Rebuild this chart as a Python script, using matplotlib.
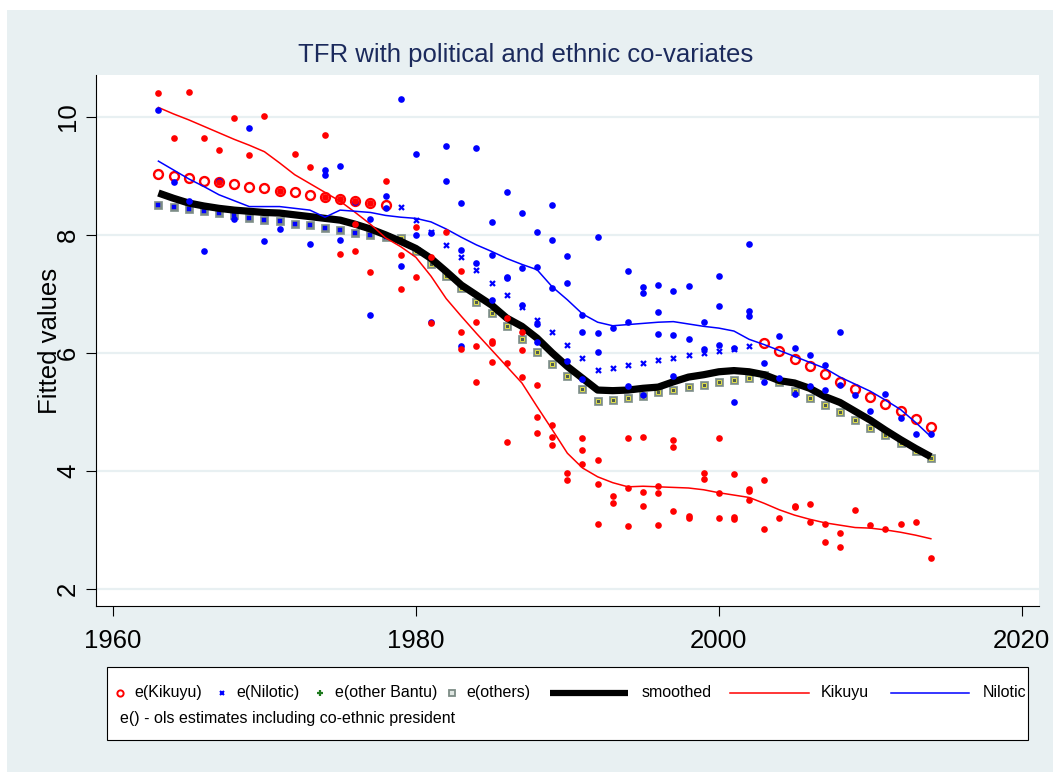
import matplotlib
matplotlib.use("Agg")
import matplotlib.pyplot as plt
from matplotlib.patches import Rectangle
import numpy as np

plt.rcParams['font.family'] = ['Liberation Sans', 'DejaVu Sans']

# ---------------------------------------------------------------- data
years = np.arange(1963, 2015)

smoothed = [8.71, 8.62, 8.54, 8.49, 8.45, 8.42, 8.40, 8.38, 8.37, 8.34,
            8.31, 8.28, 8.25, 8.18, 8.10, 8.00, 7.89, 7.77, 7.60, 7.38,
            7.15, 6.98, 6.81, 6.59, 6.45, 6.25, 6.00, 5.77, 5.57, 5.37,
            5.36, 5.37, 5.40, 5.42, 5.51, 5.59, 5.63, 5.68, 5.70, 5.68,
            5.63, 5.53, 5.49, 5.40, 5.26, 5.16, 5.01, 4.86, 4.69, 4.53,
            4.38, 4.24]

others_fit = [8.50, 8.48, 8.44, 8.40, 8.37, 8.33, 8.29, 8.26, 8.23, 8.19,
              8.16, 8.12, 8.09, 8.04, 8.00, 7.96, 7.94, 7.73, 7.51, 7.30,
              7.10, 6.87, 6.67, 6.46, 6.24, 6.02, 5.81, 5.60, 5.39, 5.18,
              5.20, 5.24, 5.27, 5.33, 5.37, 5.42, 5.46, 5.50, 5.54, 5.58,
              5.62, 5.50, 5.36, 5.24, 5.11, 4.99, 4.86, 4.73, 4.60, 4.47,
              4.34, 4.22]

kikuyu_line = [10.16, 10.05, 9.95, 9.84, 9.73, 9.62, 9.52, 9.41, 9.22, 9.02,
               8.87, 8.72, 8.57, 8.38, 8.18, 7.95, 7.80, 7.62, 7.30, 6.92,
               6.62, 6.33, 6.05, 5.77, 5.49, 5.09, 4.70, 4.30, 4.05, 3.90,
               3.80, 3.73, 3.74, 3.73, 3.72, 3.71, 3.68, 3.63, 3.59, 3.55,
               3.45, 3.34, 3.25, 3.18, 3.12, 3.08, 3.04, 3.03, 3.00, 2.96,
               2.91, 2.85]

nilotic_line = [9.25, 9.10, 8.95, 8.82, 8.68, 8.58, 8.48, 8.48, 8.48, 8.45,
                8.42, 8.30, 8.42, 8.40, 8.38, 8.33, 8.30, 8.28, 8.22, 8.10,
                7.96, 7.83, 7.72, 7.60, 7.50, 7.41, 7.12, 6.90, 6.66, 6.52,
                6.46, 6.48, 6.50, 6.52, 6.53, 6.49, 6.45, 6.42, 6.37, 6.23,
                6.14, 6.04, 5.94, 5.84, 5.74, 5.59, 5.47, 5.35, 5.20, 5.04,
                4.82, 4.58]

kik_fit_years = list(range(1963, 1979)) + list(range(2003, 2015))
kik_fit = [9.03, 9.00, 8.96, 8.92, 8.89, 8.86, 8.82, 8.79, 8.75, 8.72,
           8.68, 8.64, 8.61, 8.58, 8.54, 8.51,
           6.16, 6.03, 5.90, 5.77, 5.64, 5.51, 5.38, 5.26, 5.13, 5.01,
           4.88, 4.75]

nil_fit_years = list(range(1979, 2003))
nil_fit = [8.47, 8.26, 8.05, 7.83, 7.62, 7.41, 7.19, 6.98, 6.77, 6.56,
           6.35, 6.14, 5.92, 5.71, 5.75, 5.79, 5.83, 5.88, 5.92, 5.96,
           6.00, 6.04, 6.07, 6.11]

kik_obs_years = [1963, 1964, 1965, 1966, 1967, 1967, 1968, 1969, 1970, 1971,
                 1972, 1973, 1974, 1974, 1975, 1975, 1976, 1976, 1976, 1977,
                 1977, 1978, 1979, 1979, 1980, 1980, 1981, 1981, 1982, 1983,
                 1983, 1983, 1984, 1984, 1984, 1985, 1985, 1985, 1986, 1986,
                 1986, 1987, 1987, 1987, 1988, 1988, 1988, 1989, 1989, 1989,
                 1990, 1990, 1991, 1991, 1991, 1992, 1992, 1992, 1993, 1993,
                 1994, 1994, 1994, 1995, 1995, 1995, 1996, 1996, 1996, 1997,
                 1997, 1997, 1998, 1998, 1999, 1999, 2000, 2000, 2000, 2001,
                 2001, 2001, 2002, 2002, 2002, 2003, 2003, 2004, 2005, 2005,
                 2006, 2006, 2007, 2007, 2008, 2008, 2009, 2010, 2011, 2012,
                 2013, 2014]
kik_obs = [10.40, 9.64, 10.42, 9.64, 9.44, 8.89, 9.98, 9.36, 10.02, 8.75,
           9.37, 9.15, 9.70, 8.64, 8.61, 7.68, 8.58, 8.19, 7.73, 8.54,
           7.37, 8.92, 7.66, 7.08, 8.13, 7.29, 7.62, 6.50, 8.05, 7.38,
           6.35, 6.07, 6.52, 6.12, 5.50, 6.20, 6.17, 5.84, 6.59, 5.83,
           4.49, 6.35, 6.05, 5.59, 5.46, 4.91, 4.65, 4.77, 4.58, 4.44,
           3.97, 3.84, 4.55, 4.36, 4.12, 4.18, 3.78, 3.10, 3.58, 3.46,
           4.55, 3.71, 3.06, 4.58, 3.65, 3.40, 3.75, 3.63, 3.08, 4.52,
           4.40, 3.32, 3.24, 3.21, 3.97, 3.87, 4.55, 3.62, 3.20, 3.94,
           3.22, 3.19, 3.70, 3.66, 3.51, 3.84, 3.02, 3.20, 3.41, 3.38,
           3.44, 3.13, 3.10, 2.79, 2.94, 2.71, 3.34, 3.08, 3.01, 3.10,
           3.14, 2.53]

nil_obs_years = [1963, 1964, 1965, 1966, 1967, 1968, 1969, 1970, 1971, 1973,
                 1974, 1974, 1975, 1975, 1976, 1977, 1977, 1978, 1978, 1979,
                 1979, 1980, 1980, 1981, 1981, 1982, 1982, 1983, 1983, 1983,
                 1984, 1984, 1985, 1985, 1985, 1986, 1986, 1986, 1987, 1987,
                 1987, 1988, 1988, 1988, 1988, 1989, 1989, 1989, 1990, 1990,
                 1990, 1991, 1991, 1991, 1992, 1992, 1992, 1993, 1994, 1994,
                 1994, 1995, 1995, 1995, 1996, 1996, 1996, 1997, 1997, 1997,
                 1998, 1998, 1999, 1999, 2000, 2000, 2000, 2001, 2001, 2002,
                 2002, 2002, 2003, 2003, 2004, 2004, 2005, 2005, 2006, 2006,
                 2007, 2007, 2008, 2008, 2009, 2010, 2011, 2012, 2013, 2014]
nil_obs = [10.11, 8.89, 8.58, 7.73, 8.92, 8.27, 9.81, 7.89, 8.10, 7.84,
           9.10, 9.02, 9.16, 7.91, 8.56, 8.27, 6.64, 8.66, 8.46, 10.30,
           7.48, 9.37, 8.00, 8.04, 6.52, 9.51, 8.92, 8.54, 7.75, 6.12,
           9.48, 7.52, 8.21, 7.66, 6.89, 8.72, 7.29, 7.27, 8.37, 7.44,
           6.81, 8.05, 7.46, 6.49, 6.19, 8.50, 7.91, 7.10, 7.64, 7.18,
           5.87, 6.64, 6.36, 5.56, 7.96, 6.33, 6.02, 6.42, 7.38, 6.53,
           5.44, 7.11, 7.02, 5.28, 7.15, 6.69, 6.32, 7.05, 6.30, 5.60,
           7.13, 6.23, 6.52, 6.07, 7.31, 6.79, 6.14, 6.09, 5.17, 7.84,
           6.71, 6.62, 5.83, 5.50, 6.28, 5.58, 6.09, 5.30, 5.96, 5.44,
           5.80, 5.37, 6.36, 5.46, 5.29, 5.01, 5.31, 4.90, 4.63, 4.63]

x_ticks = [1960, 1980, 2000, 2020]
y_ticks = [2, 4, 6, 8, 10]
title = "TFR with political and ethnic co-variates"
y_title = "Fitted values"
legend_labels = ["e(Kikuyu)", "e(Nilotic)", "e(other Bantu)", "e(others)",
                 "smoothed", "Kikuyu", "Nilotic"]
legend_note = "e() - ols estimates including co-ethnic president"

# ---------------------------------------------------------------- style
W, H = 1053, 772
BG = "#e8f0f2"
TITLE_C = "#1b2a5c"
SQ_FACE = "#7d8c86"
FS = 18.5

fig = plt.figure(figsize=(W / 100, H / 100), dpi=100)
fig.patch.set_facecolor("white")
fig.add_artist(Rectangle((7 / W, 0), 1 - 7 / W, 1 - 10 / H,
                         transform=fig.transFigure, facecolor=BG,
                         edgecolor="none", zorder=-1))

ax = fig.add_axes([96 / W, 1 - 606 / H, (1039 - 96) / W, (606 - 75) / H])
ax.set_facecolor("white")
ax.set_xlim(1958.88, 2021.14)
ax.set_ylim(1.71, 10.71)
ax.set_xticks(x_ticks)
ax.set_yticks(y_ticks)
ax.yaxis.grid(True, color=BG, lw=1.6)
ax.set_axisbelow(True)
for s in ("top", "right"):
    ax.spines[s].set_visible(False)
for s in ("left", "bottom"):
    ax.spines[s].set_color("black")
    ax.spines[s].set_linewidth(0.8)
ax.tick_params(direction="out", length=7.2, width=0.8, labelsize=FS,
               colors="black")
ax.tick_params(axis="x", pad=9.0)
ax.tick_params(axis="y", pad=4.3)
for lbl in ax.get_yticklabels():
    lbl.set_rotation(90)
    lbl.set_va("center")

# fitted values for the "others" group, with inner marks
ax.plot(years, others_fit, ls="none", marker="s", ms=6.2, mfc=SQ_FACE,
        mec="#8d9c96", mew=0.6, zorder=3)
early = years <= 1978
ax.plot(years[early], np.array(others_fit)[early], ls="none", marker="s",
        ms=2.6, mfc="blue", mec="blue", mew=0.3, zorder=3.1)
ax.plot(years[~early], np.array(others_fit)[~early], ls="none", marker="s",
        ms=2.4, mfc="#4d5a50", mec="#e2e24a", mew=0.7, zorder=3.1)

# co-ethnic fitted values
ax.plot(kik_fit_years, kik_fit, ls="none", marker="o", ms=6.4, mfc="none",
        mec="red", mew=1.7, zorder=3.2)
ax.plot(nil_fit_years, nil_fit, ls="none", marker="x", ms=3.6, mec="blue",
        mew=1.6, zorder=3.2)

# smoothed curves
ax.plot(years, smoothed, color="black", lw=5.2, solid_capstyle="butt",
        zorder=4)
ax.plot(years, kikuyu_line, color="red", lw=1.1, zorder=5)
ax.plot(years, nilotic_line, color="blue", lw=1.1, zorder=5)

# observations
ax.plot(nil_obs_years, nil_obs, ls="none", marker="o", ms=4.8, mfc="blue",
        mec="none", zorder=6)
ax.plot(kik_obs_years, kik_obs, ls="none", marker="o", ms=4.8, mfc="red",
        mec="none", zorder=6.1)

ax.set_ylabel(y_title, fontsize=FS, va="center")
ax.yaxis.set_label_coords((50 - 96) / 943, 0.5)

fig.text(525.5 / W, 1 - 55 / H, title, ha="center", va="center",
         fontsize=FS, color=TITLE_C)

# ---------------------------------------------------------------- legend
lg = fig.add_axes([0, 0, 1, 1])
lg.set_xlim(0, W)
lg.set_ylim(H, 0)
lg.axis("off")
lg.add_patch(Rectangle((107, 667), 921, 73, facecolor="white",
                       edgecolor="black", lw=0.8))
ry = 692.5
LFS = 11.5
lg.plot(119.8, ry, "o", ms=4.5, mfc="none", mec="red", mew=1.4)
lg.plot(221.7, ry, "x", ms=3.2, mec="blue", mew=1.5)
lg.plot(320.0, ry, "+", ms=4.2, mec="#1e7a1e", mew=1.6)
lg.plot(451.9, ry, "s", ms=4.8, mfc="#dfe6e2", mec="#7d8c86", mew=1.3)
lg.plot([549.6, 628.2], [ry, ry], color="black", lw=4.5,
        solid_capstyle="butt")
lg.plot([729.5, 808.6], [ry, ry], color="red", lw=1.1)
lg.plot([891.4, 969.3], [ry, ry], color="blue", lw=1.1)
text_x = [134.0, 236.7, 335.0, 466.3, 641.4, 820.6, 982.5]
for tx, lab in zip(text_x, legend_labels):
    lg.text(tx, ry, lab, ha="left", va="center", fontsize=LFS)
lg.text(119.8, 719, legend_note, ha="left", va="center", fontsize=LFS)

fig.savefig("out.png", dpi=100, facecolor=fig.get_facecolor())
